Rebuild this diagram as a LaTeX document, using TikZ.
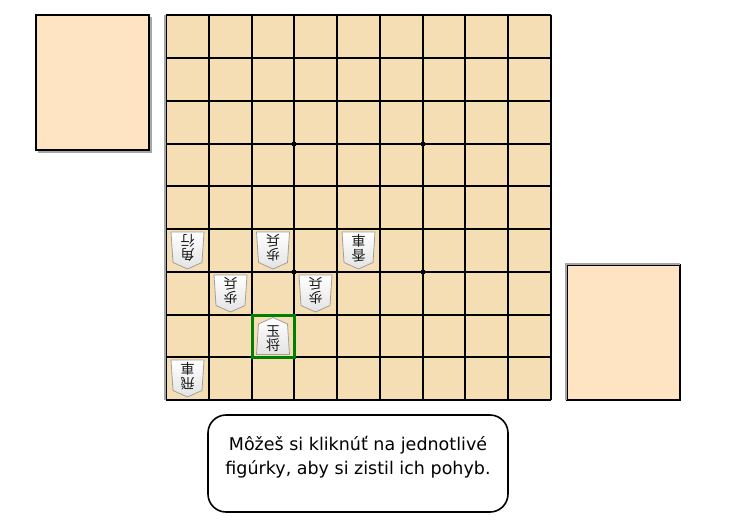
\documentclass[tikz,border=0pt]{standalone}
\usepackage{fontspec}
\setmainfont{DejaVu Sans}
\newfontfamily\jpfont{Noto Sans CJK JP}
\definecolor{boardfill}{HTML}{F5DEB3}
\definecolor{handfill}{HTML}{FFE4C4}
\definecolor{selgreen}{HTML}{008000}
\begin{document}
\begin{tikzpicture}[x=1pt,y=-1pt,
  gridline/.style={line width=1.2pt, black},
  handbox/.style={fill=handfill, draw=black, line width=1.5pt},
  shadowline/.style={draw=gray!70, line width=1.5pt},
  piecebody/.style={draw=gray!75, line width=0.8pt, top color=white, bottom color=gray!22},
  piecetext/.style={font=\jpfont\fontsize{14}{14.5}\selectfont, align=center, inner sep=0pt, text=black!90, transform shape},
  star/.style={fill=black, circle, inner sep=0pt, minimum size=5pt},
  selbox/.style={draw=selgreen, line width=3pt},
  msgbox/.style={draw=black, line width=1.6pt, rounded corners=18pt, fill=white, minimum width=300pt, minimum height=97pt, inner sep=0pt},
  msgtext/.style={font=\fontsize{17.5}{24.5}\selectfont, align=center, inner sep=0pt},
  pics/shogi/.style={code={
    \path[piecebody] (0,-18.5) -- (14.5,-12) -- (16.5,18.5) -- (-16.5,18.5) -- (-14.5,-12) -- cycle;
    \node[piecetext] (-label) at (0,2.5) {#1};
  }}
]
\useasboundingbox (0,0) rectangle (733,527);
% hands (piece stands)
\path[handbox] (36,15) rectangle (149,150);
\draw[shadowline] (151,17) -- (151,152) -- (38,152);
\path[handbox] (567,265) rectangle (680,400);
\draw[shadowline] (566,400) -- (566,264) -- (680,264);
% board
\fill[boardfill] (166,15) rectangle (551,400);
\foreach \v in {166,209,252,294,337,380,423,465,508,551}
  \draw[gridline] (\v,15) -- (\v,400);
\foreach \v in {15,58,101,144,186,229,272,315,357,400}
  \draw[gridline] (166,\v) -- (551,\v);
\draw[shadowline, line width=2pt] (165,15) -- (165,400);
% star points
\node[star] (s1) at (294,144) {};
\node[star] (s2) at (423,144) {};
\node[star] (s3) at (294,272) {};
\node[star] (s4) at (423,272) {};
% selected square
\draw[selbox] (252.5,315.5) rectangle (294,357);
% pieces
\pic[rotate=180] (p61) at (187.5,250.5) {shogi={角\\行}};
\pic[rotate=180] (p63) at (273.0,250.5) {shogi={歩\\兵}};
\pic[rotate=180] (p65) at (358.5,250.5) {shogi={香\\車}};
\pic[rotate=180] (p72) at (230.5,293.5) {shogi={歩\\兵}};
\pic[rotate=180] (p74) at (315.5,293.5) {shogi={歩\\兵}};
\pic (p83) at (273.0,336) {shogi={玉\\将}};
\pic[rotate=180] (p91) at (187.5,378.5) {shogi={飛\\車}};
% message
\node[msgbox] (msgframe) at (358,463.5) {};
\node[msgtext] (msg) at (358,457) {Môžeš si kliknúť na jednotlivé\\figúrky, aby si zistil ich pohyb.};
\end{tikzpicture}
\end{document}
